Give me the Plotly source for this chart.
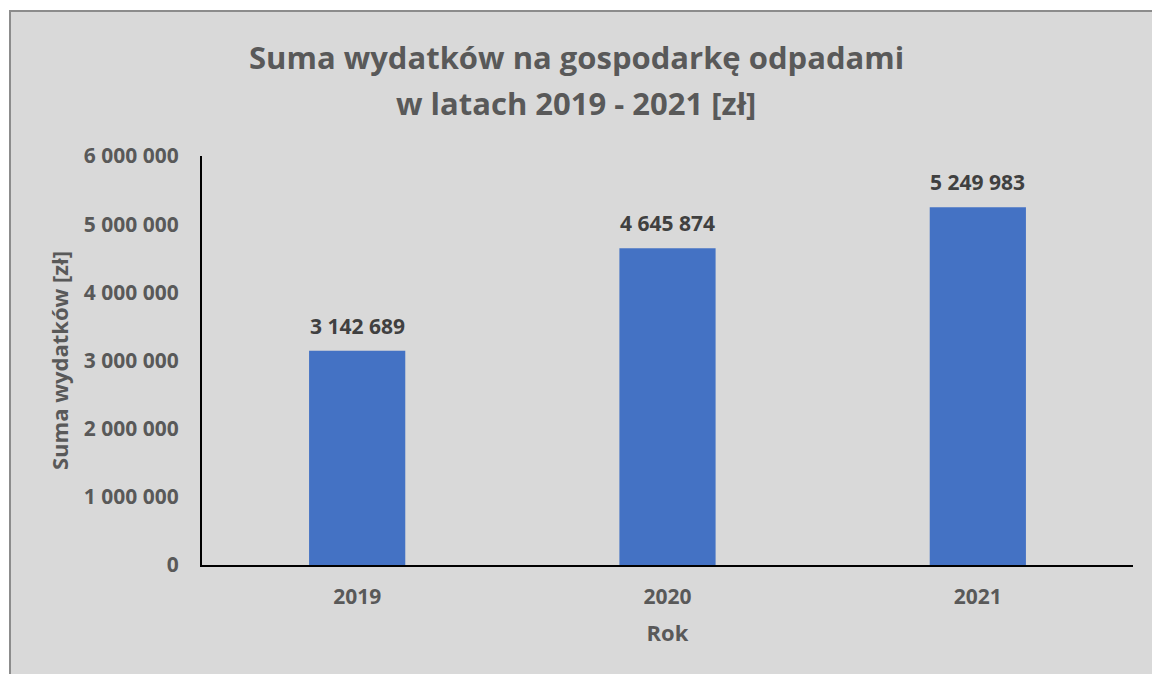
import plotly.graph_objects as go

years = ["2019", "2020", "2021"]
values = [3142689, 4645874, 5249983]
labels = ["3 142 689", "4 645 874", "5 249 983"]
tick_vals = [0, 1000000, 2000000, 3000000, 4000000, 5000000, 6000000]
tick_text = ["0", "1 000 000", "2 000 000", "3 000 000", "4 000 000", "5 000 000", "6 000 000"]
title_lines = ["Suma wydatków na gospodarkę odpadami", "w latach 2019 - 2021 [zł]"]

W, H = 1152, 674
L, R, T, B = 202, 19, 156, 109
FONT = "Open Sans"
GREY = "#595959"

fig = go.Figure()
fig.add_trace(go.Bar(
    x=years, y=values,
    marker=dict(color="#4472c4", line=dict(width=0)),
    width=0.31,
    hoverinfo="skip",
))

annotations = []
for i, (v, lab) in enumerate(zip(values, labels)):
    annotations.append(dict(
        x=i, y=v, xref="x", yref="y", text=f"<b>{lab}</b>", showarrow=False,
        xanchor="center", yanchor="bottom", yshift=9,
        font=dict(family=FONT, size=21, color="#404040"),
    ))
for line, ypx in zip(title_lines, [57, 103]):
    annotations.append(dict(
        x=(W / 2 - L) / (W - L - R), y=1 + (T - ypx) / (H - T - B),
        xref="paper", yref="paper", text=f"<b>{line}</b>", showarrow=False,
        xanchor="center", yanchor="middle",
        font=dict(family=FONT, size=31, color=GREY),
    ))

fig.update_layout(
    width=W, height=H,
    paper_bgcolor="white", plot_bgcolor="rgba(0,0,0,0)",
    margin=dict(l=L, r=R, t=T, b=B),
    showlegend=False,
    annotations=annotations,
    xaxis=dict(
        type="category", range=[-0.5, len(years) - 0.5],
        showline=True, linecolor="black", linewidth=2, showgrid=False,
        ticks="", ticklabelstandoff=12,
        tickfont=dict(family=FONT, size=21, color=GREY, weight="bold"),
        title=dict(text="<b>Rok</b>", font=dict(family=FONT, size=22, color=GREY), standoff=16),
    ),
    yaxis=dict(
        range=[0, 6000000], tickvals=tick_vals, ticktext=tick_text,
        showline=True, linecolor="black", linewidth=2, showgrid=False, zeroline=False,
        ticks="", ticklabelstandoff=17,
        tickfont=dict(family=FONT, size=21, color=GREY, weight="bold"),
        title=dict(text="<b>Suma wydatków [zł]</b>", font=dict(family=FONT, size=22, color=GREY), standoff=9),
    ),
    shapes=[dict(
        type="rect", xref="paper", yref="paper", layer="below",
        x0=(10 - L) / (W - L - R), x1=1.2,
        y0=-0.4, y1=1 + (T - 11) / (H - T - B),
        fillcolor="#d9d9d9", line=dict(color="#8c8c8c", width=2),
    )],
)

fig.write_html("out.html", config={"displayModeBar": False},
               post_script="document.body.style.margin='0';")
